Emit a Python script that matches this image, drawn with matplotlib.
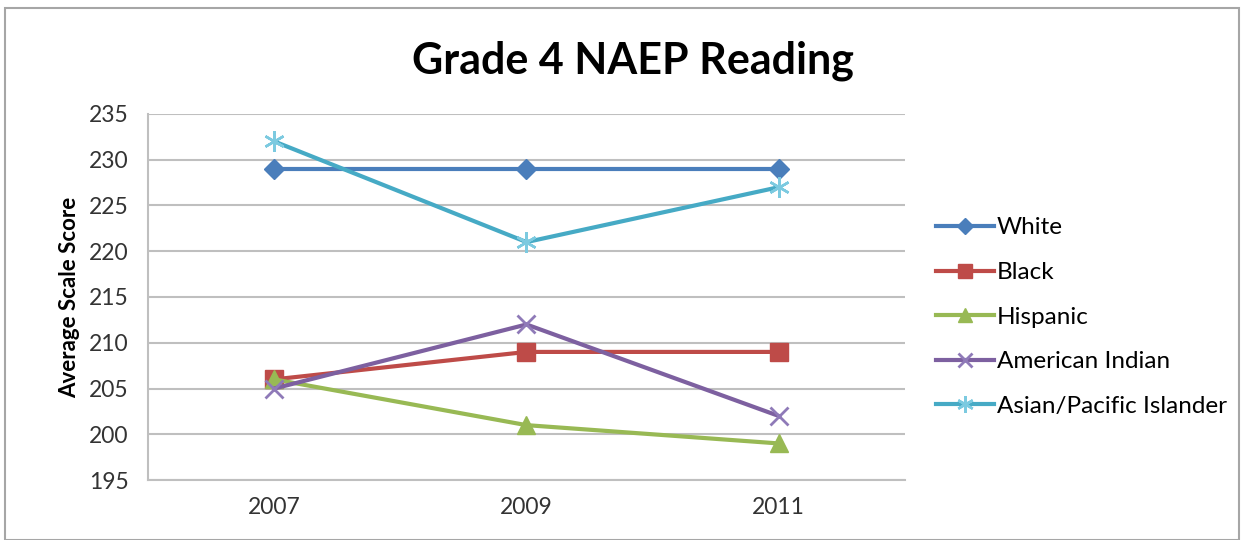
import matplotlib.pyplot as plt
from matplotlib.patches import Rectangle

years = ['2007', '2009', '2011']
white = [229, 229, 229]
black = [206, 209, 209]
hispanic = [206, 201, 199]
american_indian = [205, 212, 202]
asian_pacific = [232, 221, 227]

plt.rcParams['font.family'] = ['Lato', 'DejaVu Sans']

fig = plt.figure(figsize=(12.46, 5.40), dpi=100)
ax = fig.add_axes([0.1188, 0.111, 0.6075, 0.678])

x = range(len(years))
ax.plot(x, white, color='#4A7EBB', lw=3, marker='D', ms=10, label='White')
ax.plot(x, black, color='#BE4B48', lw=3, marker='s', ms=13, label='Black')
ax.plot(x, hispanic, color='#98B954', lw=3, marker='^', ms=13, label='Hispanic')
ax.plot(x, american_indian, color='#7D60A0', lw=3, marker='x', ms=13, mew=2,
        mec='#8F7AB8', label='American Indian')
ax.plot(x, asian_pacific, color='#46AAC5', lw=3, marker=(6, 2, 0), ms=15, mew=1.8,
        mec='#7CCAE0', label='Asian/Pacific Islander')

ax.set_xlim(-0.5, 2.5)
ax.set_ylim(195, 235)
ax.set_yticks(range(195, 236, 5))
ax.set_xticks(list(x))
ax.set_xticklabels(years)
ax.grid(axis='y', color='#BFBFBF', lw=1.5)
ax.set_axisbelow(True)
for s in ['top', 'right']:
    ax.spines[s].set_visible(False)
for s in ['left', 'bottom']:
    ax.spines[s].set_color('#BFBFBF')
    ax.spines[s].set_linewidth(1.5)
ax.tick_params(length=0, labelsize=16.5, colors='#333333', pad=12)
ax.tick_params(axis='y', pad=14)
ax.set_ylabel('Average Scale Score', fontsize=16, fontweight='bold', labelpad=6)

fig.suptitle('Grade 4 NAEP Reading', x=0.508, y=0.925, fontsize=31, fontweight='bold')

ax.legend(loc='center left', bbox_to_anchor=(1.012, 0.445), frameon=False, fontsize=17.5,
          handlelength=2.4, handletextpad=0.1, labelspacing=0.97, markerscale=0.8)

fig.add_artist(Rectangle((0.004, 0.0), 0.99, 0.985, transform=fig.transFigure,
                         fill=False, ec='#A6A6A6', lw=1.5))

fig.savefig('out.png', dpi=100)
